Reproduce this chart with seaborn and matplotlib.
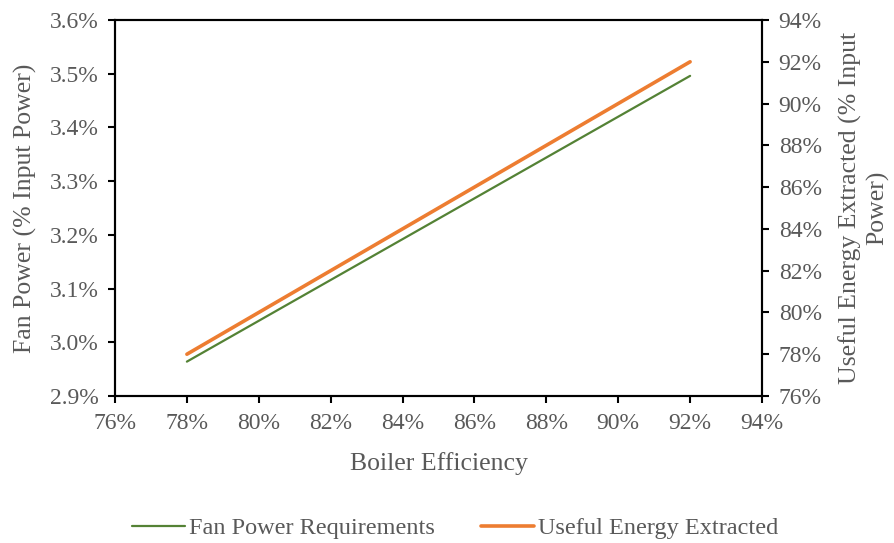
import matplotlib
matplotlib.use("Agg")
import matplotlib.pyplot as plt
from matplotlib.ticker import FuncFormatter, MultipleLocator
import seaborn as sns
import pandas as pd

# Boiler efficiency (%) and the two responses
boiler_efficiency = [78, 80, 82, 84, 86, 88, 90, 92]
fan_power = [2.964, 3.040, 3.116, 3.192, 3.268, 3.344, 3.420, 3.496]
useful_energy = [78, 80, 82, 84, 86, 88, 90, 92]

df = pd.DataFrame({"eff": boiler_efficiency, "fan": fan_power, "useful": useful_energy})

sns.set_theme(style="white")
plt.rcParams["font.family"] = ["Liberation Serif", "DejaVu Serif"]

GREEN = "#548235"
ORANGE = "#ED7D31"
TEXT = "#595959"

fig = plt.figure(figsize=(8.94, 5.43), dpi=100)
ax = fig.add_axes([115 / 894, 1 - 396 / 543, (762 - 115) / 894, (396 - 20) / 543])
ax2 = ax.twinx()

sns.lineplot(data=df, x="eff", y="fan", ax=ax, color=GREEN, linewidth=1.6,
             label="Fan Power Requirements", legend=False)
sns.lineplot(data=df, x="eff", y="useful", ax=ax2, color=ORANGE, linewidth=2.6,
             label="Useful Energy Extracted", legend=False)

ax.set_xlim(76, 94)
ax.set_ylim(2.9, 3.6)
ax2.set_ylim(76, 94)
ax.xaxis.set_major_locator(MultipleLocator(2))
ax.yaxis.set_major_locator(MultipleLocator(0.1))
ax2.yaxis.set_major_locator(MultipleLocator(2))
ax.xaxis.set_major_formatter(FuncFormatter(lambda v, p: f"{v:.0f}%"))
ax.yaxis.set_major_formatter(FuncFormatter(lambda v, p: f"{v:.1f}%"))
ax2.yaxis.set_major_formatter(FuncFormatter(lambda v, p: f"{v:.0f}%"))

for a in (ax, ax2):
    for s in a.spines.values():
        s.set_color("black")
        s.set_linewidth(1.5)
    a.tick_params(colors=TEXT, labelsize=17, length=5, width=1.5, direction="out")
    a.tick_params(axis="both", color="black")
ax.tick_params(axis="y", left=True, right=False, pad=7)
ax.tick_params(axis="x", bottom=True, pad=7)
ax2.tick_params(axis="y", right=True, pad=7)

ax.set_xlabel("Boiler Efficiency", fontsize=18.5, color=TEXT, labelpad=13)
ax.set_ylabel("Fan Power (% Input Power)", fontsize=18.5, color=TEXT, labelpad=9)
ax2.set_ylabel("Useful Energy Extracted (% Input\nPower)", fontsize=18.5, color=TEXT,
               labelpad=12, linespacing=1.25)
ax.grid(False)
ax2.grid(False)

h1, l1 = ax.get_legend_handles_labels()
h2, l2 = ax2.get_legend_handles_labels()
leg = fig.legend(h1 + h2, l1 + l2, loc="center", bbox_to_anchor=(0.509, 1 - 528 / 543),
                 ncol=2, frameon=False, fontsize=17.5, handlelength=2.2, handletextpad=0.15,
                 columnspacing=1.9)
for t in leg.get_texts():
    t.set_color(TEXT)

fig.savefig("out.png", dpi=100)
